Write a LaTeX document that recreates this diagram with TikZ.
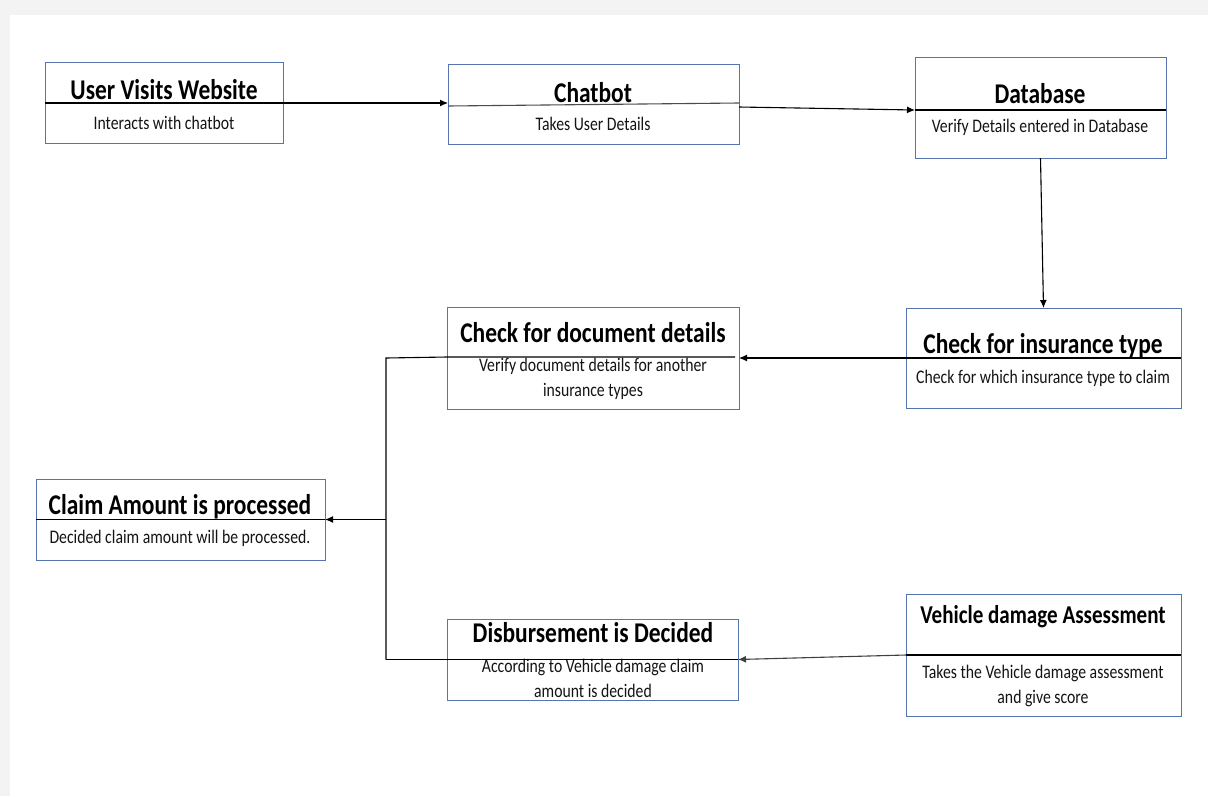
\documentclass[tikz,border=0pt]{standalone}
\usepackage{fontspec}
\setmainfont{Carlito}[FakeStretch=0.82]
\usetikzlibrary{arrows.meta}
\definecolor{boxblue}{RGB}{86,116,176}
\definecolor{bggray}{RGB}{243,243,243}
\definecolor{textgray}{RGB}{20,20,20}
\begin{document}
\begin{tikzpicture}[x=1pt,y=-1pt,
  box/.style={draw=boxblue, line width=0.8pt, inner sep=0pt, outer sep=0pt, anchor=north west},
  ttl/.style={font=\bfseries\fontsize{28.6}{32}\selectfont, anchor=base, inner sep=0pt, text=black},
  sub/.style={font=\fontsize{19.2}{24.5}\selectfont, anchor=base, inner sep=0pt, align=center, text=textgray},
  conn/.style={line width=1.1pt, draw=black},
  arr/.style={conn, -{Latex[length=8pt,width=7pt]}}]
\fill[bggray] (0,0) rectangle (1208,796);
\fill[white] (10,15) rectangle (1208,796);
\useasboundingbox (0,0) rectangle (1208,796);

% boxes
\node[box, minimum width=238pt, minimum height=81pt] (uvw) at (45,62) {};
\node[box, minimum width=291pt, minimum height=80pt] (chat) at (448,64) {};
\node[box, minimum width=251pt, minimum height=101pt] (db) at (915,57) {};
\node[box, minimum width=292pt, minimum height=102pt] (doc) at (447,307) {};
\node[box, minimum width=275pt, minimum height=100pt] (ins) at (906,308) {};
\node[box, minimum width=289pt, minimum height=81pt] (claim) at (36,479) {};
\node[box, minimum width=291pt, minimum height=81pt] (disb) at (447,619) {};
\node[box, minimum width=275pt, minimum height=122pt] (veh) at (906,594) {};

% texts (base = baseline of the last line)
\node[ttl] (uvwt) at (164,99) {User Visits Website};
\node[sub] (uvws) at (164,129) {Interacts with chatbot};
\node[ttl] (chatt) at (593,102) {Chatbot};
\node[sub] (chats) at (593,130) {Takes User Details};
\node[ttl] (dbt) at (1040,103) {Database};
\node[sub] (dbs) at (1040,132) {Verify Details entered in Database};
\node[ttl] (inst) at (1043,353) {Check for insurance type};
\node[sub] (inss) at (1043,383) {Check for which insurance type to claim};
\node[ttl] (doct) at (593,342) {Check for document details};
\node[sub] (docs) at (593,396) {Verify document details for another\\insurance types};
\node[ttl] (claimt) at (180,514) {Claim Amount is processed};
\node[sub] (claims) at (180,543) {Decided claim amount will be processed.};
\node[ttl] (disbt) at (593,642) {Disbursement is Decided};
\node[sub] (disbs) at (593,697) {According to Vehicle damage claim\\amount is decided};
\node[ttl, font=\bfseries\fontsize{25.7}{30}\selectfont] (veht) at (1043,623) {Vehicle damage Assessment};
\node[sub] (vehs) at (1043,703) {Takes the Vehicle damage assessment\\and give score};

% junction coordinates
\coordinate (jtop) at (386,358);
\coordinate (jmid) at (386,519.5);
\coordinate (jbot) at (386,659.5);

% connectors
\draw[arr] ([yshift=-0.5pt]uvw.west) -- ([yshift=1pt]chat.west);
\draw[conn, draw=black!70] ([yshift=-2pt]chat.west) -- ([yshift=1pt]chat.east);
\draw[arr] ([yshift=-3pt]chat.east) -- ([yshift=-2.5pt]db.west);
\draw[conn] ([yshift=-2.5pt]db.west) -- ([yshift=-2.5pt]db.east);
\draw[arr] (db.south) -- (ins.north);
\draw[arr] (ins.east) -- (doc.east);
\draw[conn] ([xshift=-4pt,yshift=1pt]doc.east) -- ([yshift=1pt]doc.west) -- (jtop) -- (jbot);
\draw[arr] (jmid) -- (claim.east);
\draw[conn] (claim.west) -- (claim.east);
\draw[conn] (veh.east) -- (veh.west);
\draw[arr, draw=black!75] (veh.west) -- (disb.east);
\draw[conn] (disb.east) -- (disb.west) -- (jbot);
\end{tikzpicture}
\end{document}
